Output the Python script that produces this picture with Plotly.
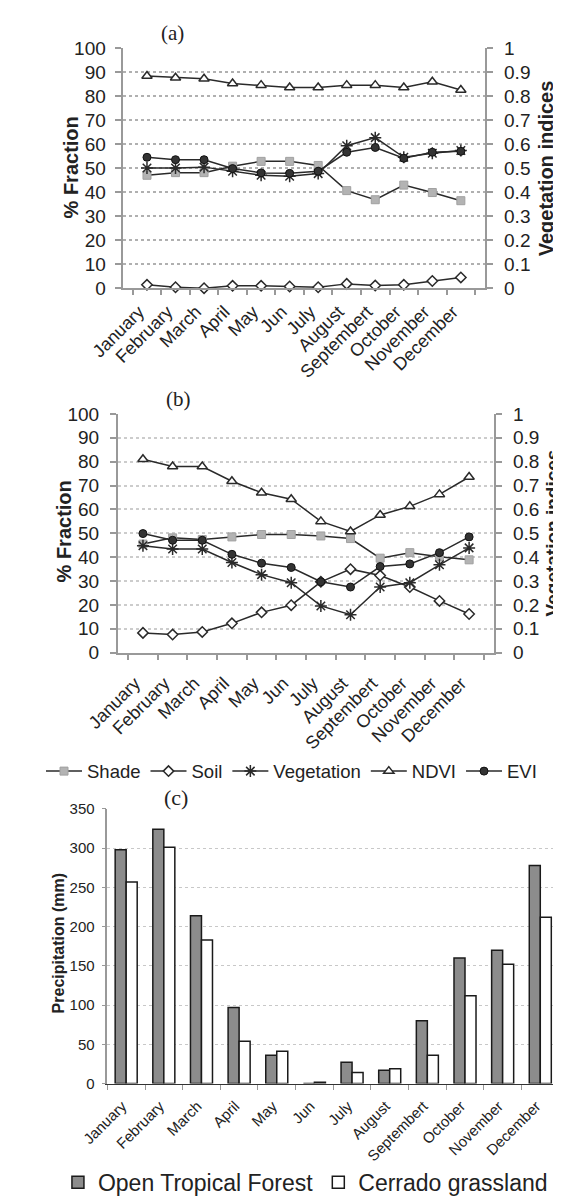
import plotly.graph_objects as go

W, H = 561, 1201

months = ["January", "February", "March", "April", "May", "Jun", "July",
          "August", "Septembert", "October", "November", "December"]

# Panel (a) – fractions (%) and vegetation indices
a_shade = [47.1, 48.2, 48.2, 50.9, 52.9, 52.9, 51.2, 40.7, 36.9, 43.0, 39.9, 36.5]
a_soil = [1.4, 0.4, 0.0, 1.0, 1.0, 0.7, 0.4, 1.8, 1.1, 1.4, 3.0, 4.5]
a_veg = [50.1, 50.1, 50.5, 48.8, 47.1, 46.7, 47.8, 59.4, 62.8, 54.6, 56.3, 57.4]
a_ndvi = [0.885, 0.878, 0.874, 0.854, 0.847, 0.837, 0.837, 0.847, 0.847, 0.837, 0.861, 0.827]
a_evi = [0.546, 0.536, 0.536, 0.499, 0.481, 0.479, 0.488, 0.567, 0.587, 0.542, 0.567, 0.571]

# Panel (b)
b_shade = [45.5, 48.1, 47.4, 48.5, 49.5, 49.5, 48.9, 47.8, 39.6, 41.9, 40.2, 38.9]
b_soil = [8.3, 7.6, 8.7, 12.3, 16.9, 19.9, 29.7, 35.0, 32.3, 27.5, 21.7, 16.2]
b_veg = [44.8, 43.4, 43.4, 37.8, 32.7, 29.3, 19.6, 15.9, 27.5, 29.3, 36.8, 43.9]
b_ndvi = [0.81, 0.78, 0.78, 0.718, 0.67, 0.643, 0.55, 0.508, 0.577, 0.613, 0.663, 0.736]
b_evi = [0.499, 0.471, 0.471, 0.412, 0.375, 0.357, 0.297, 0.275, 0.361, 0.372, 0.419, 0.485]

# Panel (c) – precipitation (mm)
forest_precip = [298, 324, 214, 97, 36, 0, 27, 17, 80, 160, 170, 278]
cerrado_precip = [257, 301, 183, 54, 41, 1.5, 14, 19, 36, 112, 152, 212]

FONT = "Liberation Sans, Arial, sans-serif"
SERIF = "Liberation Serif, Times New Roman, serif"
LINE = "#2a2a2a"
AXC = "#999999"


def px_x(p):
    return p / W


def px_y(p):
    return 1 - p / H


styles = {
    "Shade": dict(symbol="square", size=8, color="#b3b3b3", line=dict(color="#a0a0a0", width=1)),
    "Soil": dict(symbol="diamond", size=8, color="white", line=dict(color=LINE, width=1.5)),
    "Vegetation": dict(symbol="asterisk-open", size=10, color=LINE, line=dict(color=LINE, width=1.5)),
    "NDVI": dict(symbol="triangle-up", size=9, color="white", line=dict(color=LINE, width=1.5)),
    "EVI": dict(symbol="circle", size=8, color="#333333", line=dict(color="#111111", width=1)),
}

fig = go.Figure()

panels = [
    ("x", "y", "y2", a_shade, a_soil, a_veg, a_ndvi, a_evi, True),
    ("x2", "y3", "y4", b_shade, b_soil, b_veg, b_ndvi, b_evi, False),
]
for xa, yl, yr, sh, so, ve, nd, ev, show in panels:
    for name, vals, yax in [("Shade", sh, yl), ("Soil", so, yl), ("Vegetation", ve, yl),
                            ("NDVI", nd, yr), ("EVI", ev, yr)]:
        fig.add_trace(go.Scatter(
            x=months, y=vals, name=name, mode="lines+markers",
            xaxis=xa, yaxis=yax, legend="legend", legendgroup=name,
            showlegend=show, line=dict(color=LINE, width=1.5),
            marker=styles[name], cliponaxis=False,
        ))

fig.add_trace(go.Bar(x=months, y=forest_precip, name="Open Tropical Forest",
                     xaxis="x3", yaxis="y5", legend="legend2",
                     marker=dict(color="#8c8c8c", line=dict(color="#1a1a1a", width=1.5))))
fig.add_trace(go.Bar(x=months, y=cerrado_precip, name="Cerrado grassland",
                     xaxis="x3", yaxis="y5", legend="legend2",
                     marker=dict(color="white", line=dict(color="#1a1a1a", width=1.5))))

axis_line = dict(showline=True, linecolor=AXC, linewidth=2, ticks="outside",
                 tickcolor=AXC, tickwidth=2)


def xcat(domain, anchor, fs, ticklen, standoff, shift):
    return dict(domain=domain, anchor=anchor, type="category", tickson="boundaries",
                tickangle=-45, tickfont=dict(family=FONT, size=fs, color="#222"),
                ticklen=ticklen, showgrid=False, zeroline=False,
                ticklabelstandoff=standoff, ticklabelshift=shift, **axis_line)


def yleft(domain, anchor, grid, standoff):
    return dict(domain=domain, anchor=anchor, range=[0, 100], dtick=10,
                tickfont=dict(family=FONT, size=19, color="#222"), ticklen=6,
                showgrid=True, gridcolor=grid, griddash="dot", gridwidth=1.5,
                zeroline=False, ticklabelstandoff=standoff, **axis_line)


def yright(over, anchor, standoff):
    return dict(overlaying=over, anchor=anchor, side="right", range=[0, 1], dtick=0.1,
                tickfont=dict(family=FONT, size=19, color="#222"), ticklen=6,
                showgrid=False, zeroline=False, ticklabelstandoff=standoff, **axis_line)


# inner halves of the crossing tick marks (no labels, no lines)
def inner_y(over, anchor, side):
    return dict(overlaying=over, anchor=anchor, side=side, range=[0, 100], dtick=10,
                ticks="inside", ticklen=6, tickcolor=AXC, tickwidth=2,
                showticklabels=False, showgrid=False, showline=False, zeroline=False)


def inner_x(over, anchor):
    return dict(overlaying=over, anchor=anchor, range=[0, 12], dtick=1, tick0=0,
                ticks="inside", ticklen=6, tickcolor=AXC, tickwidth=2,
                showticklabels=False, showgrid=False, showline=False, zeroline=False)


fig.update_layout(
    width=W, height=H, margin=dict(l=0, r=0, t=0, b=0),
    paper_bgcolor="white", plot_bgcolor="white",
    font=dict(family=FONT, color="#222"),
    barmode="group", bargap=0.415, bargroupgap=0,
    xaxis=xcat([px_x(86.7), px_x(472)], "y", 18, 5, 4, -8),
    yaxis=yleft([px_y(275), px_y(31)], "x", "#b0b0b0", 5),
    yaxis2=yright("y", "x", 7),
    xaxis2=xcat([px_x(81.7), px_x(481.5)], "y3", 18, 5, 11, -8),
    yaxis3=yleft([px_y(646), px_y(403)], "x2", "#cccccc", 7),
    yaxis4=yright("y3", "x2", 7),
    xaxis4=inner_x("x", "y"),
    yaxis6=inner_y("y", "x", "left"),
    yaxis7=inner_y("y", "x", "right"),
    xaxis5=inner_x("x2", "y3"),
    yaxis8=inner_y("y3", "x2", "left"),
    yaxis9=inner_y("y3", "x2", "right"),
    xaxis3=dict(domain=[px_x(70.5), px_x(550.5)], anchor="y5", type="category",
                tickson="boundaries", tickangle=-45, ticks="outside", ticklen=5,
                tickcolor=AXC, showline=True, linecolor="#333333", linewidth=1,
                tickfont=dict(family=FONT, size=15, color="#222"), showgrid=False,
                ticklabelstandoff=7, ticklabelshift=-4),
    yaxis5=dict(domain=[px_y(1084.5), px_y(805)], anchor="x3", range=[0, 350], dtick=50,
                showline=True, linecolor=AXC, linewidth=1.5, ticks="outside",
                ticklen=4, tickcolor=AXC,
                tickfont=dict(family=FONT, size=15, color="#222"),
                showgrid=True, gridcolor="#c8c8c8", griddash="dot", gridwidth=1,
                zeroline=False, ticklabelstandoff=4),
    legend=dict(orientation="h", x=0, xanchor="left", y=px_y(767), yanchor="middle",
                font=dict(family=FONT, size=18.5, color="#222"), bgcolor="rgba(0,0,0,0)",
                itemwidth=36, tracegroupgap=0),
    legend2=dict(orientation="h", x=px_x(18), xanchor="left", y=px_y(1185), yanchor="middle",
                 font=dict(family=FONT, size=23, color="#222"), bgcolor="rgba(0,0,0,0)"),
)

annotations = [
    dict(text="(a)", x=px_x(140), y=px_y(15), font=dict(family=SERIF, size=21, color="#222")),
    dict(text="(b)", x=px_x(146), y=px_y(388), font=dict(family=SERIF, size=21, color="#222")),
    dict(text="(c)", x=px_x(143.5), y=px_y(793), font=dict(family=SERIF, size=22, color="#222")),
    dict(text="<b>% Fraction</b>", x=px_x(32), y=px_y(152), textangle=-90,
         font=dict(family=FONT, size=20, color="#222")),
    dict(text="<b>Vegetation indices</b>", x=px_x(536), y=px_y(152.5), textangle=-90,
         font=dict(family=FONT, size=20, color="#222")),
    dict(text="<b>% Fraction</b>", x=px_x(24), y=px_y(523), textangle=-90,
         font=dict(family=FONT, size=20, color="#222")),
    dict(text="<b>Vegetation indices</b>", x=px_x(543), y=px_y(524.5), textangle=-90,
         font=dict(family=FONT, size=19, color="#222")),
    dict(text="<b>Precipitation (mm)</b>", x=px_x(19), y=px_y(942), textangle=-90,
         font=dict(family=FONT, size=16, color="#222")),
]
for a in annotations:
    a.update(xref="paper", yref="paper", showarrow=False, xanchor="center", yanchor="middle")
fig.update_layout(annotations=annotations)

fig.write_html("out.html")
